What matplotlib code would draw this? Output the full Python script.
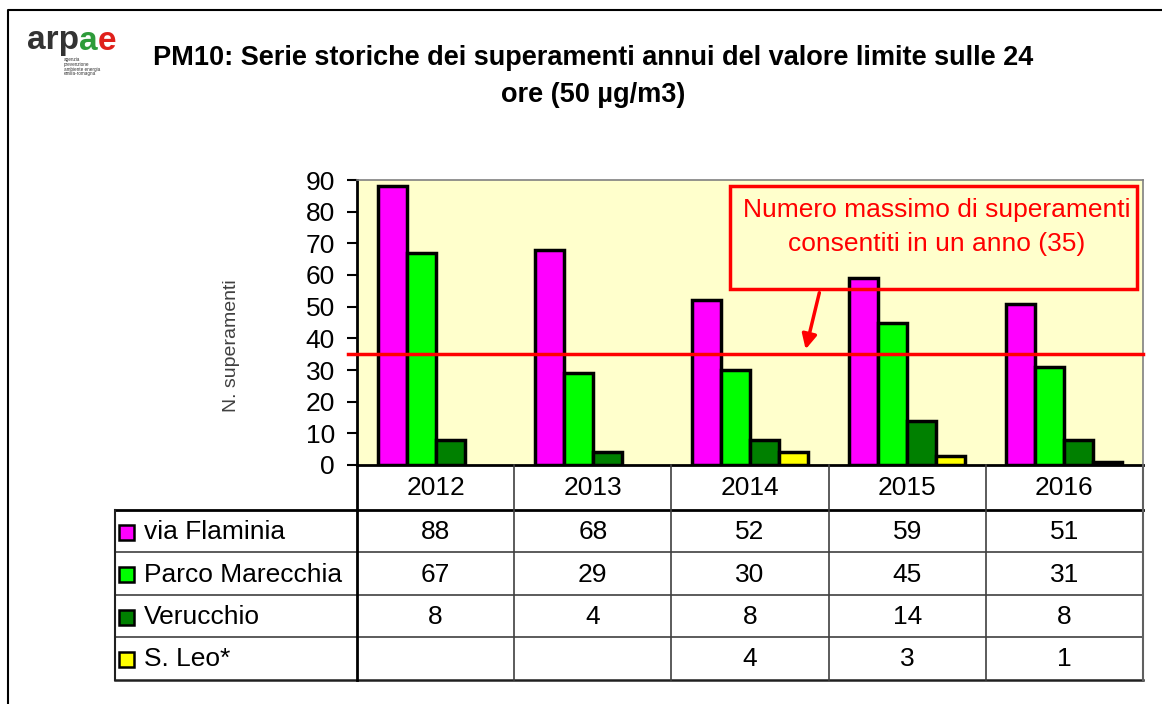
import numpy as np
import matplotlib
matplotlib.use('Agg')
import matplotlib.pyplot as plt
from matplotlib.patches import Rectangle, FancyArrowPatch
from matplotlib.lines import Line2D

plt.rcParams['font.family'] = ['Liberation Sans', 'DejaVu Sans']

# ---------------- data ----------------
years = ['2012', '2013', '2014', '2015', '2016']
series_names = ['via Flaminia', 'Parco Marecchia', 'Verucchio', 'S. Leo*']
via_flaminia = [88, 68, 52, 59, 51]
parco_marecchia = [67, 29, 30, 45, 31]
verucchio = [8, 4, 8, 14, 8]
s_leo = [None, None, 4, 3, 1]
limit_value = 35
y_ticks = [0, 10, 20, 30, 40, 50, 60, 70, 80, 90]
title_lines = ['PM10: Serie storiche dei superamenti annui del valore limite sulle 24',
               'ore (50 µg/m3)']
annotation_lines = ['Numero massimo di superamenti', 'consentiti in un anno (35)']
ylabel = 'N. superamenti'

series = [via_flaminia, parco_marecchia, verucchio, s_leo]
colors = ['#FF00FF', '#00FF00', '#008000', '#FFFF00']

# ---------------- layout helpers (pixels) ----------------
W, H = 1162, 704
fig = plt.figure(figsize=(W / 100, H / 100), dpi=100)
fig.patch.set_facecolor('white')


def fx(px):
    return px / W


def fy(py):
    return 1 - py / H


def fline(xs, ys, **kw):
    fig.add_artist(Line2D([fx(v) for v in xs], [fy(v) for v in ys],
                          transform=fig.transFigure, **kw))


# outer frame
fline([8, 8, 1162], [704, 10, 10], color='black', lw=1.5)

# ---------------- plot area ----------------
L, R, T, B = 357, 1143, 180, 465
ax = fig.add_axes([fx(L), fy(B), fx(R) - fx(L), fy(T) - fy(B)])
ax.set_facecolor('#FFFFCC')
ncat = len(years)
ax.set_xlim(0, ncat)
ax.set_ylim(0, 90)
bw = 29 / 157
for k, vals in enumerate(series):
    v = np.array([np.nan if a is None else a for a in vals], dtype=float)
    x = np.arange(ncat) + 0.5 + (k - 1.5) * bw
    ax.bar(x, v, width=bw, color=colors[k], edgecolor='black', linewidth=2.5, zorder=2)

ax.axhline(limit_value, xmin=-0.012, xmax=1, color='#FF0000', lw=2.5, zorder=3, clip_on=False)

ax.set_xticks([])
ax.set_yticks(y_ticks)
ax.tick_params(axis='y', length=7, width=1.5, labelsize=19, direction='out', pad=9)
for s in ['left', 'bottom']:
    ax.spines[s].set_color('black')
    ax.spines[s].set_linewidth(2)
for s in ['top', 'right']:
    ax.spines[s].set_color('#808080')
    ax.spines[s].set_linewidth(1.2)

fig.text(fx(232), fy(346), ylabel, rotation=90, ha='center', va='center',
         fontsize=14, color='#404040')

# ---------------- title ----------------
fig.text(fx(593), fy(58), title_lines[0], ha='center', va='center',
         fontsize=19.5, fontweight='bold')
fig.text(fx(593), fy(95), title_lines[1], ha='center', va='center',
         fontsize=19.5, fontweight='bold')

# ---------------- logo ----------------
renderer = fig.canvas.get_renderer()
xpos = fx(27)
for part, col in [('arp', '#333333'), ('a', '#2E9B3A'), ('e', '#E0201B')]:
    t = fig.text(xpos, fy(41), part, ha='left', va='center', fontsize=24,
                 fontweight='bold', color=col)
    bb = t.get_window_extent(renderer=renderer)
    xpos = xpos + bb.width / W
for i, s in enumerate(['agenzia', 'prevenzione', 'ambiente energia', 'emilia-romagna']):
    fig.text(fx(64), fy(60 + i * 4.5), s, ha='left', va='center', fontsize=3.3, color='#333333')

# ---------------- data table ----------------
col_w = (R - L) / ncat
row_y = [510, 552, 595, 637, 680]
tbl_left = 115
# horizontal lines
fline([tbl_left, R], [510, 510], color='black', lw=2)
for yy in row_y[1:-1]:
    fline([tbl_left, R], [yy, yy], color='#404040', lw=1.2)
fline([tbl_left, R], [680, 680], color='#202020', lw=1.8)
# vertical lines
fline([tbl_left, tbl_left], [510, 680], color='#202020', lw=1.5)
fline([L, L], [B, 680], color='black', lw=2)
for i in range(1, ncat):
    xx = L + i * col_w
    fline([xx, xx], [B, 680], color='#404040', lw=1.2)
fline([R, R], [B, 680], color='#606060', lw=1.5)

# header years
for i, yr in enumerate(years):
    fig.text(fx(L + (i + 0.5) * col_w), fy(488), yr, ha='center', va='center', fontsize=19)

# rows
for r, (name, vals) in enumerate(zip(series_names, series)):
    yc = (row_y[r] + row_y[r + 1]) / 2 + 1
    fig.add_artist(Rectangle((fx(119), fy(yc + 7.5)), fx(15), 15 / H,
                             transform=fig.transFigure, facecolor=colors[r],
                             edgecolor='black', lw=1.8))
    fig.text(fx(144), fy(yc), name, ha='left', va='center', fontsize=19)
    for i, v in enumerate(vals):
        if v is not None:
            fig.text(fx(L + (i + 0.5) * col_w), fy(yc), str(v), ha='center',
                     va='center', fontsize=19)

# ---------------- annotation ----------------
fig.add_artist(Rectangle((fx(730), fy(289)), fx(1137) - fx(730), (289 - 186) / H,
                         transform=fig.transFigure, facecolor='none',
                         edgecolor='#FF0000', lw=2.5, zorder=5))
fig.text(fx(937), fy(210), annotation_lines[0], ha='center', va='center',
         fontsize=19, color='#FF0000', zorder=6)
fig.text(fx(937), fy(244), annotation_lines[1], ha='center', va='center',
         fontsize=19, color='#FF0000', zorder=6)
fig.add_artist(FancyArrowPatch((fx(820), fy(290)), (fx(805), fy(352)),
                               transform=fig.transFigure, arrowstyle='-|>',
                               mutation_scale=22, color='#FF0000', lw=2.5, zorder=6))

fig.savefig('out.png', dpi=100)
